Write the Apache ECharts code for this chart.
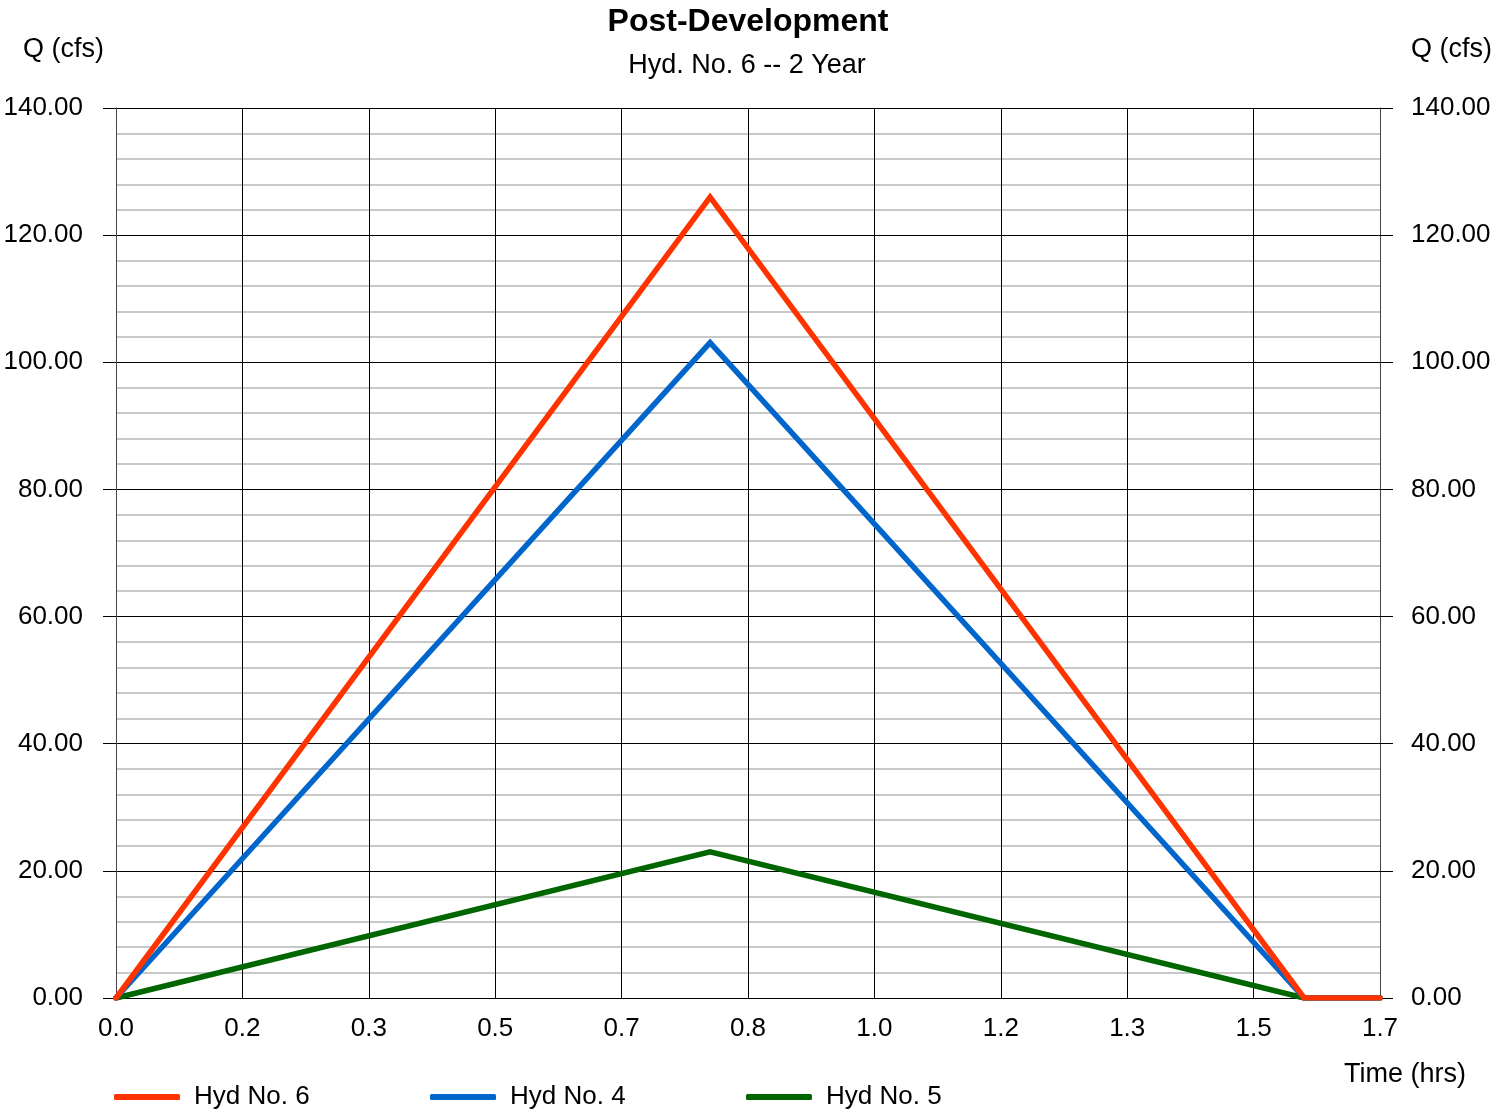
<!DOCTYPE html>
<html>
<head>
<meta charset="utf-8">
<script src="https://cdn.jsdelivr.net/npm/echarts@6/dist/echarts.min.js"></script>
<style>html,body{margin:0;padding:0;background:#fff}#c{width:1509px;height:1110px}</style>
</head>
<body>
<div id="c"></div>
<script>
// Time in minutes (axis labels shown in hours)
const timeMin = [0, 47, 94, 100];
const hyd6 = [0, 126.0, 0, 0];
const hyd4 = [0, 103.1, 0, 0];
const hyd5 = [0, 23.0, 0, 0];
const seriesNames = ['Hyd No. 6', 'Hyd No. 4', 'Hyd No. 5'];
const seriesColors = ['#FF3300', '#0066CC', '#006600'];
const yTicks = [0, 20, 40, 60, 80, 100, 120, 140];

const FONT = "'Liberation Sans', Arial, sans-serif";
const pair = (vals) => timeMin.map((t, i) => [t, vals[i]]);
const allVals = [hyd6, hyd4, hyd5];

const chart = echarts.init(document.getElementById('c'), null, {renderer: 'canvas'});
const baseText = {fontFamily: FONT, fontSize: 26, color: '#000', fontWeight: 'normal'};

const yAxisCommon = {
  type: 'value', min: yTicks[0], max: yTicks[yTicks.length - 1], interval: 20,
  axisLine: {show: true, lineStyle: {color: '#444', width: 1}},
  axisTick: {show: true, length: 13, lineStyle: {color: '#000', width: 1}},
  axisLabel: {fontFamily: FONT, fontSize: 26, color: '#000', padding: [4, 0, 0, 0], formatter: v => v.toFixed(2)}
};

const option = {
  backgroundColor: '#fff',
  animation: false,
  title: [
    {text: 'Post-Development', left: 748, top: 6, textAlign: 'center', padding: 0,
     textStyle: Object.assign({}, baseText, {fontSize: 32, fontWeight: 'bold'})},
    {text: 'Hyd. No. 6 -- 2 Year', left: 747, top: 52, textAlign: 'center', padding: 0,
     textStyle: Object.assign({}, baseText, {fontSize: 27})},
    {text: 'Q (cfs)', left: 23, top: 36, padding: 0, textStyle: Object.assign({}, baseText, {fontSize: 27})},
    {text: 'Q (cfs)', left: 1411, top: 36, padding: 0, textStyle: Object.assign({}, baseText, {fontSize: 27})},
    {text: 'Time (hrs)', left: 1344, top: 1061, padding: 0, textStyle: Object.assign({}, baseText, {fontSize: 27})}
  ],
  legend: seriesNames.map((n, i) => ({
    data: [n], left: 114 + i * 316, top: 1084, padding: 0,
    icon: 'roundRect', itemWidth: 66, itemHeight: 6, itemGap: 0,
    textStyle: Object.assign({}, baseText, {fontSize: 26, padding: [0, 0, 0, 9]})
  })),
  grid: {left: 116, right: 129, top: 108, bottom: 112, containLabel: false},
  xAxis: {
    type: 'value', min: 0, max: 100, interval: 10,
    axisLine: {show: false},
    axisTick: {show: false},
    axisLabel: {margin: 18, formatter: v => (v / 60).toFixed(1), fontFamily: FONT, fontSize: 26, color: '#000'},
    splitLine: {show: true, lineStyle: {color: '#000', width: 1}}
  },
  yAxis: [
    Object.assign({}, yAxisCommon, {
      position: 'left',
      axisLabel: Object.assign({}, yAxisCommon.axisLabel, {margin: 33}),
      minorTick: {show: false, splitNumber: 5},
      minorSplitLine: {show: true, lineStyle: {color: '#C8C8C8', width: 2}},
      splitLine: {show: true, lineStyle: {color: '#000', width: 1}}
    }),
    Object.assign({}, yAxisCommon, {
      position: 'right',
      axisLabel: Object.assign({}, yAxisCommon.axisLabel, {margin: 31}),
      splitLine: {show: false}
    })
  ],
  series: seriesNames.map((n, i) => ({
    name: n, type: 'line', data: pair(allVals[i]), yAxisIndex: 0,
    showSymbol: false, symbol: 'none',
    lineStyle: {color: seriesColors[i], width: 5.5, cap: 'round', join: 'miter'},
    itemStyle: {color: seriesColors[i]},
    z: 10 - i
  })).reverse()
};
chart.setOption(option);
</script>
</body>
</html>
